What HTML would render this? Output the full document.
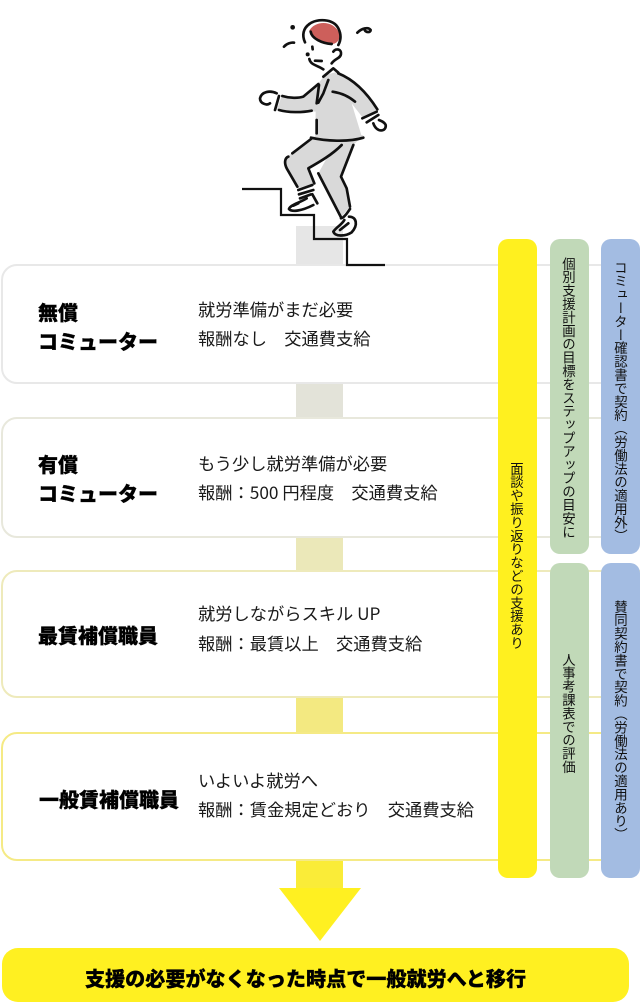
<!DOCTYPE html>
<html lang="ja"><head><meta charset="utf-8">
<style>
html,body{margin:0;padding:0;background:#fff}
#p{position:relative;width:640px;height:1007px;overflow:hidden;background:#fff;font-family:"Noto Sans CJK JP","Liberation Sans",sans-serif;color:#111}
.c{position:absolute;left:296px;width:47px}
.card{position:absolute;left:1px;width:660px;box-sizing:border-box;background:#fff;border:2px solid;border-radius:16px}
.t{position:absolute;left:38px;font-size:20px;font-weight:900;line-height:29px;color:#000;white-space:nowrap;-webkit-text-stroke:.3px #000}
.b{position:absolute;left:198px;font-size:17.25px;line-height:29px;color:#1a1a1a;white-space:pre}
.col{position:absolute;width:39px;border-radius:10px}
.v{position:absolute;writing-mode:vertical-rl;font-size:13.4px;line-height:20px;width:20px;white-space:nowrap;color:#111}
svg{position:absolute;left:0;top:0}
</style></head><body><div id="p">
<div class="c" style="top:226px;height:40px;background:#e6e6e6"></div>
<div class="c" style="top:383px;height:36px;background:#e3e3d9"></div>
<div class="c" style="top:536px;height:36px;background:#ebe8b9"></div>
<div class="c" style="top:696px;height:38px;background:#f3e981"></div>
<div class="c" style="top:859px;height:30px;background:#faec38"></div>

<div class="card" style="top:264px;height:120px;border-color:#e8e8e8"></div>
<div class="card" style="top:417px;height:121px;border-color:#e8e8dc"></div>
<div class="card" style="top:570px;height:128px;border-color:#eeeabb"></div>
<div class="card" style="top:732px;height:129px;border-color:#f5ea85"></div>

<div class="t" style="top:297px">無償<br>コミューター</div>
<div class="b" style="top:294px">就労準備がまだ必要</div>
<div class="b" style="top:323px">報酬なし　交通費支給</div>

<div class="t" style="top:449px">有償<br>コミューター</div>
<div class="b" style="top:448px">もう少し就労準備が必要</div>
<div class="b" style="top:477px">報酬：500 円程度　交通費支給</div>

<div class="t" style="top:620px">最賃補償職員</div>
<div class="b" style="top:598px">就労しながらスキル UP</div>
<div class="b" style="top:628px">報酬：最賃以上　交通費支給</div>

<div class="t" style="top:784px;left:39px">一般賃補償職員</div>
<div class="b" style="top:765px">いよいよ就労へ</div>
<div class="b" style="top:794px">報酬：賃金規定どおり　交通費支給</div>

<div class="col" style="left:498px;top:239px;height:639px;background:#fff01f"></div>
<div class="col" style="left:550px;top:239px;height:315px;background:#c1d9b8"></div>
<div class="col" style="left:550px;top:563px;height:315px;background:#c1d9b8"></div>
<div class="col" style="left:601px;top:239px;height:315px;background:#a3bce2"></div>
<div class="col" style="left:601px;top:563px;height:315px;background:#a3bce2"></div>

<div class="v" style="left:507px;top:462px">面談や振り返りなどの支援あり</div>
<div class="v" style="left:559px;top:257px">個別支援計画の目標をステップアップの目安に</div>
<div class="v" style="left:559px;top:653px">人事考課表での評価</div>
<div class="v" style="left:611px;top:261px">コミューター確認書で契約（労働法の適用外）</div>
<div class="v" style="left:611px;top:600px">賛同契約書で契約（労働法の適用あり）</div>

<svg width="640" height="1007" viewBox="0 0 640 1007">
<polygon points="279,888 361,888 320,941" fill="#fff021"/>
<g transform="translate(255,60) scale(.33333)" fill="none" stroke="#111" stroke-width="8" stroke-linecap="round" stroke-linejoin="round">
<path d="M80 108L145 110L190 70L210 45L250 35C300 60 340 100 365 150L325 175L290 130L322 235L180 240L182 155L65 150Z" fill="#d9d9d9" stroke="none"/>
<path d="M205 50L235 25L250 38"/>
<path d="M250 40C300 60 340 105 367 148"/>
<path d="M233 95C265 100 285 112 300 125"/>
<path d="M322 175L365 155M335 187L370 165"/>
<path d="M355 190C365 220 395 215 392 195C388 185 378 183 372 180"/>
<path d="M82 108C105 115 130 115 145 110L190 72"/>
<path d="M72 150C100 158 140 158 170 152"/>
<path d="M72 108L60 150"/>
<path d="M65 100C45 90 20 95 15 115C15 130 35 138 45 130"/>
<path d="M192 75L185 130M220 60L205 100L190 128M185 180L185 220"/>
</g>
<g transform="translate(270,10) scale(.33333)" fill="none" stroke="#111" stroke-width="8" stroke-linecap="round" stroke-linejoin="round">
<path d="M118 62C135 30 192 30 208 70C212 92 197 104 180 102C152 99 122 88 118 62Z" fill="#cd5f5b" stroke="none"/>
<path d="M118 42C140 25 190 25 205 55C215 75 213 90 205 105"/>
<path d="M118 42C100 55 95 75 105 97"/>
<path d="M122 65C125 85 155 100 185 102"/>
<path d="M127 110L128 118"/>
<circle cx="113" cy="133" r="6" fill="#111" stroke="none"/>
<path d="M190 125C198 113 215 118 213 132C212 145 195 145 185 160"/>
<path d="M135 152L155 153"/>
<path d="M118 147C122 165 140 165 160 178"/>
<circle cx="68" cy="52" r="7" fill="#111" stroke="none"/>
<path d="M42 110C50 100 65 97 72 98"/>
<path d="M262 68C275 55 295 50 302 60C302 68 288 68 284 60"/>
</g>
<g transform="translate(275,135) scale(.33333)" fill="none" stroke="#111" stroke-width="8" stroke-linecap="round" stroke-linejoin="round">
<path d="M105 5L265 0L235 30L198 125L215 160L225 215L195 250L130 115L155 70L100 100L120 145L65 160L30 95L30 70L105 12Z" fill="#d9d9d9" stroke="none"/>
<path d="M108 8C150 18 220 22 265 8"/>
<path d="M108 12L52 55"/>
<path d="M40 65C28 70 28 85 35 100L67 155"/>
<path d="M200 30C170 60 135 80 100 100L118 145"/>
<path d="M235 30L198 125L215 160L225 215"/>
<path d="M130 115L197 245"/>
<path d="M70 165L112 150M72 178L115 165M75 190L108 178M112 178L127 205"/>
<path d="M42 222C45 210 70 205 95 190M42 222C50 232 80 228 115 210M55 212L70 205"/>
<path d="M198 250C210 248 222 225 225 222"/>
<path d="M222 245C245 245 250 270 230 292C210 305 180 305 175 290C185 275 200 270 208 255"/>
<path d="M195 285L220 265"/>
</g>
<path d="M242 189H281V215H314V239H347V265H385" fill="none" stroke="#111" stroke-width="2.2"/>
</svg>

<div style="position:absolute;left:2px;top:948px;width:627px;height:54px;background:#fff021;border-radius:16px"></div>
<div style="position:absolute;left:85px;top:948px;height:60px;line-height:60px;font-size:20.1px;font-weight:900;color:#000;white-space:nowrap;-webkit-text-stroke:.3px #000">支援の必要がなくなった時点で一般就労へと移行</div>
</div></body></html>
